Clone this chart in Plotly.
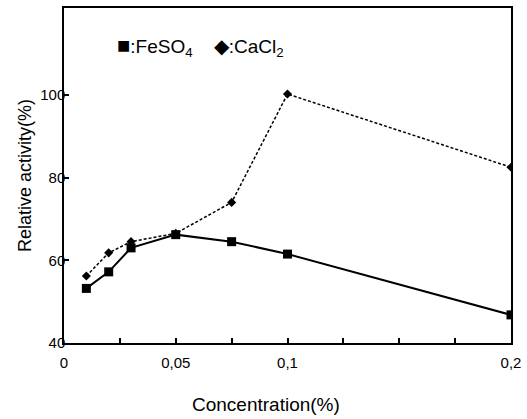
import plotly.graph_objects as go

concentration = [0.01, 0.02, 0.03, 0.05, 0.075, 0.1, 0.2]
feso4 = [53.2, 57.2, 63.0, 66.2, 64.5, 61.5, 46.8]
cacl2 = [56.2, 61.8, 64.5, 66.5, 74.0, 100.2, 82.5]

x_tickvals = [0, 0.025, 0.05, 0.075, 0.1, 0.125, 0.15, 0.175, 0.2]
x_ticktext = ["0", "", "0,05", "", "0,1", "", "", "", "0,2"]
y_tickvals = [40, 60, 80, 100]
y_ticktext = ["40", "60", "80", "100"]

font_family = "Liberation Sans, Arial, sans-serif"

fig = go.Figure()
fig.add_trace(go.Scatter(
    x=concentration, y=cacl2, mode="lines+markers", name="CaCl2",
    line=dict(color="black", width=1.5, dash="3px,2px"),
    marker=dict(symbol="diamond", size=7, color="black"),
))
fig.add_trace(go.Scatter(
    x=concentration, y=feso4, mode="lines+markers", name="FeSO4",
    line=dict(color="black", width=2),
    marker=dict(symbol="square", size=9, color="black"),
))

fig.add_annotation(
    x=0.115, y=0.885, xref="paper", yref="paper", xanchor="left", yanchor="middle",
    text="<span style='font-size:22px'>■</span>:FeSO<sub>4</sub>&nbsp;&nbsp;&nbsp; <span style='font-size:20px'>◆</span>:CaCl<sub>2</sub>",
    showarrow=False,
    font=dict(family=font_family, size=19, color="black"),
)

fig.add_annotation(
    x=0.451, y=-0.184, xref="paper", yref="paper", xanchor="center", yanchor="middle",
    text="Concentration(%)", showarrow=False,
    font=dict(family=font_family, size=19, color="black"),
)

fig.update_layout(
    width=527, height=419,
    margin=dict(l=64, r=15, t=6, b=76),
    paper_bgcolor="white", plot_bgcolor="white",
    showlegend=False,
    font=dict(family=font_family, size=15, color="black"),
    xaxis=dict(
        range=[0, 0.2], tickmode="array", tickvals=x_tickvals, ticktext=x_ticktext,
        ticks="inside", ticklen=5, tickwidth=1.5, tickcolor="black",
        showline=True, linecolor="black", linewidth=1.5, mirror=True,
        showgrid=False, zeroline=False, ticklabelstandoff=5,
        tickfont=dict(size=15),
    ),
    yaxis=dict(
        range=[40, 121], tickmode="array", tickvals=y_tickvals, ticktext=y_ticktext,
        ticks="inside", ticklen=5, tickwidth=1.5, tickcolor="black",
        showline=True, linecolor="black", linewidth=1.5, mirror=True,
        showgrid=False, zeroline=False, ticklabelstandoff=-6,
        title=dict(text="Relative activity(%)", font=dict(size=18), standoff=4),
        tickfont=dict(size=15),
    ),
)

fig.write_html("out.html", config={"displayModeBar": False},
               post_script="document.body.style.margin='0';")
